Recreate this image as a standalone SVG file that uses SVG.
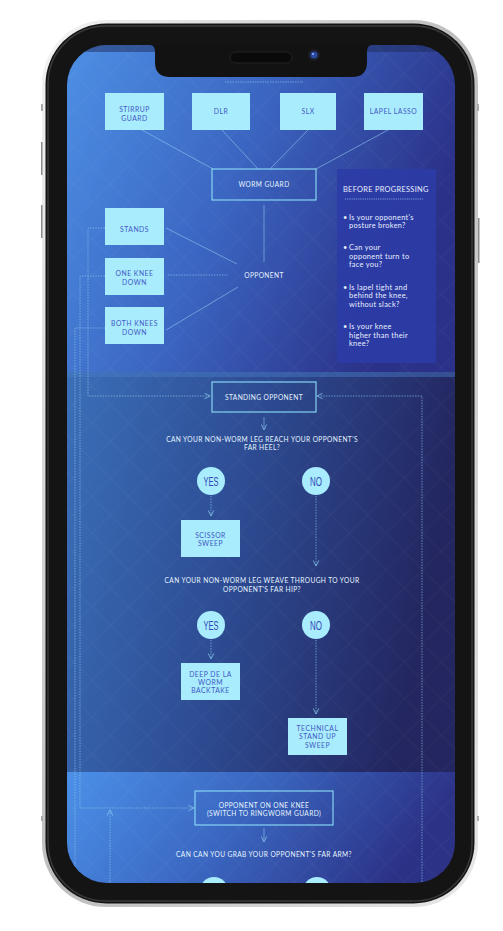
<svg xmlns="http://www.w3.org/2000/svg" width="503" height="931" viewBox="0 0 503 931">
<defs>
<style>
.box{fill:#a8ecfd}
.obox{fill:none;stroke:#86d4f2;stroke-width:1.2}
.bt{font-family:Lato,"Liberation Sans",sans-serif;font-size:6.8px;fill:#4358c4;text-anchor:middle;letter-spacing:0.5px}
.wt{font-family:Lato,"Liberation Sans",sans-serif;font-size:6.6px;fill:#e6f4ff;text-anchor:middle;letter-spacing:0.4px}
.pt{font-family:Lato,"Liberation Sans",sans-serif;font-size:7.4px;fill:#e8efff;letter-spacing:0.3px}
.ct{font-family:"Liberation Sans",sans-serif;font-size:13px;fill:#3348b8;text-anchor:middle}
.circ{fill:#a8ecfd}
.sl{stroke:#8fc9f0;stroke-width:0.8;fill:none;opacity:0.75}
.dl{stroke:#8fc9f0;stroke-width:0.8;fill:none;stroke-dasharray:1.5 1.2;opacity:0.8}
</style>
<marker id="ah" viewBox="0 0 10 10" refX="9" refY="5" markerWidth="7" markerHeight="7" markerUnits="userSpaceOnUse" orient="auto">
<path d="M1,1 L9,5 L1,9" fill="none" stroke="#8fd0f2" stroke-width="1.3"/>
</marker>
<linearGradient id="gTop" x1="0" y1="0" x2="1" y2="0.35">
<stop offset="0" stop-color="#4d8fe4"/>
<stop offset="0.5" stop-color="#3b66c2"/>
<stop offset="1" stop-color="#2b3188"/>
</linearGradient>
<linearGradient id="gMid" x1="0" y1="0" x2="1" y2="0.2">
<stop offset="0" stop-color="#3a6fb8"/>
<stop offset="0.5" stop-color="#2d4b92"/>
<stop offset="1" stop-color="#232660"/>
</linearGradient>
<linearGradient id="gBot" x1="0" y1="0" x2="1" y2="0.2">
<stop offset="0" stop-color="#4b90e8"/>
<stop offset="0.5" stop-color="#3a66c0"/>
<stop offset="1" stop-color="#2c3286"/>
</linearGradient>
<linearGradient id="gFrame" x1="0" y1="0" x2="1" y2="1">
<stop offset="0" stop-color="#f4f4f4"/>
<stop offset="0.5" stop-color="#bdbdbd"/>
<stop offset="1" stop-color="#e8e8e8"/>
</linearGradient>
<pattern id="dia" width="26" height="26" patternUnits="userSpaceOnUse" patternTransform="rotate(45)">
<rect width="26" height="26" fill="none" stroke="#ffffff" stroke-width="0.6" opacity="0.06"/>
</pattern>
<clipPath id="scr"><rect x="67" y="45" width="388" height="838" rx="40"/></clipPath>
</defs>

<g id="phone-frame">
<rect x="42" y="20" width="436" height="887" rx="64" fill="url(#gFrame)"/>
<rect x="45.5" y="23.5" width="429" height="880" rx="61" fill="#141414"/>
<rect x="48" y="26" width="424" height="875" rx="58" fill="none" stroke="#3a3a3a" stroke-width="1.5"/>
<rect x="41" y="104" width="2" height="7" fill="#aaaaaa"/>
<rect x="41" y="142" width="1.5" height="33" fill="#8a8a8a"/>
<rect x="41" y="205" width="1.5" height="33" fill="#8a8a8a"/>
<rect x="477" y="104" width="2" height="7" fill="#aaaaaa"/>
<rect x="478" y="218" width="1.5" height="45" fill="#8a8a8a"/>
<rect x="41" y="816" width="2" height="5" fill="#aaaaaa"/>
<rect x="477" y="816" width="2" height="5" fill="#aaaaaa"/>
</g>

<g id="screen" clip-path="url(#scr)">
<rect x="67" y="45" width="388" height="328" fill="url(#gTop)"/>
<rect x="67" y="45" width="388" height="7" fill="#1e2a5a" opacity="0.5"/>
<rect x="67" y="372" width="388" height="400" fill="url(#gMid)"/>
<rect x="67" y="372" width="388" height="5" fill="#4a7cc8" opacity="0.45"/>
<rect x="67" y="772" width="388" height="111" fill="url(#gBot)"/>
<rect x="67" y="45" width="388" height="838" fill="url(#dia)"/>
<line x1="225" y1="82" x2="303" y2="82" stroke="#8fc9f0" stroke-width="0.8" stroke-dasharray="1.5 1" opacity="0.8"/>

<g id="connectors">
<line class="sl" x1="142" y1="130" x2="213" y2="169"/>
<line class="sl" x1="222" y1="130" x2="258" y2="169"/>
<line class="sl" x1="308" y1="130" x2="270" y2="169"/>
<line class="sl" x1="388" y1="130" x2="316" y2="169"/>
<line class="sl" x1="264" y1="205" x2="264" y2="262"/>
<line class="sl" x1="166" y1="228" x2="237" y2="264"/>
<line class="dl" x1="168" y1="275" x2="228" y2="275"/>
<line class="sl" x1="166" y1="330" x2="238" y2="287"/>
<polyline class="dl" points="105,228 88,228 88,396 210,396" marker-end="url(#ah)"/>
<polyline class="dl" points="105,276 80,276 80,808 194,808" marker-end="url(#ah)"/>
<polyline class="dl" points="105,328 75,328 75,890"/>
<polyline class="dl" points="110,890 110,810" marker-end="url(#ah)"/>
<polyline class="dl" points="422,890 422,396 317,396" marker-end="url(#ah)"/>
<line class="sl" x1="264" y1="417" x2="264" y2="430" marker-end="url(#ah)"/>
<line class="dl" x1="211" y1="496" x2="211" y2="516" marker-end="url(#ah)"/>
<line class="dl" x1="316" y1="496" x2="316" y2="566" marker-end="url(#ah)"/>
<line class="dl" x1="211" y1="640" x2="211" y2="659" marker-end="url(#ah)"/>
<line class="dl" x1="316" y1="640" x2="316" y2="714" marker-end="url(#ah)"/>
<line class="sl" x1="264" y1="828" x2="264" y2="842" marker-end="url(#ah)"/>
</g>

<g id="n-stirrup"><rect class="box" x="105" y="93" width="59" height="37"/><text class="bt" x="134.5" y="111.5">STIRRUP</text><text class="bt" x="134.5" y="120.5">GUARD</text></g>
<g id="n-dlr"><rect class="box" x="192" y="93" width="58" height="37"/><text class="bt" x="221" y="114">DLR</text></g>
<g id="n-slx"><rect class="box" x="280" y="93" width="56" height="37"/><text class="bt" x="308" y="114">SLX</text></g>
<g id="n-lasso"><rect class="box" x="364" y="93" width="59" height="37"/><text class="bt" x="393.5" y="114">LAPEL LASSO</text></g>
<g id="n-worm"><rect class="obox" x="212" y="169" width="104" height="31"/><text class="wt" x="264" y="187">WORM GUARD</text></g>
<g id="n-stands"><rect class="box" x="105" y="208" width="59" height="37"/><text class="bt" x="134.5" y="231.5">STANDS</text></g>
<g id="n-oneknee"><rect class="box" x="105" y="258" width="59" height="37"/><text class="bt" x="134.5" y="275.5">ONE KNEE</text><text class="bt" x="134.5" y="284.5">DOWN</text></g>
<g id="n-bothknees"><rect class="box" x="105" y="307" width="59" height="37"/><text class="bt" x="134.5" y="325.5">BOTH KNEES</text><text class="bt" x="134.5" y="334.5">DOWN</text></g>
<g id="n-opponent"><text class="wt" x="264" y="277.5">OPPONENT</text></g>

<g id="n-before">
<rect x="337" y="169" width="99" height="194" fill="#2c3ca6" opacity="0.92"/>
<text class="pt" x="343" y="191.5" font-size="7px" letter-spacing="0.5">BEFORE PROGRESSING</text>
<line x1="345" y1="199" x2="423" y2="199" stroke="#8fb6f0" stroke-width="0.8" stroke-dasharray="1.2 1"/>
<text class="pt" x="343" y="219.5">•</text><text class="pt" x="349" y="219.5">Is your opponent's</text><text class="pt" x="349" y="228">posture broken?</text>
<text class="pt" x="343" y="249.5">•</text><text class="pt" x="349" y="249.5">Can your</text><text class="pt" x="349" y="258.5">opponent turn to</text><text class="pt" x="349" y="267">face you?</text>
<text class="pt" x="343" y="289.5">•</text><text class="pt" x="349" y="289.5">Is lapel tight and</text><text class="pt" x="349" y="298">behind the knee,</text><text class="pt" x="349" y="306.5">without slack?</text>
<text class="pt" x="343" y="328.5">•</text><text class="pt" x="349" y="328.5">Is your knee</text><text class="pt" x="349" y="337.5">higher than their</text><text class="pt" x="349" y="346">knee?</text>
</g>

<g id="n-standing"><rect class="obox" x="212" y="382" width="104" height="30"/><text class="wt" x="264" y="399.5">STANDING OPPONENT</text></g>
<g id="q1"><text class="wt" x="262" y="441.5">CAN YOUR NON-WORM LEG REACH YOUR OPPONENT'S</text><text class="wt" x="262" y="449.5">FAR HEEL?</text></g>
<g id="yes1"><circle class="circ" cx="211" cy="481" r="14"/><text class="ct" x="211" y="486" textLength="15" lengthAdjust="spacingAndGlyphs">YES</text></g>
<g id="no1"><circle class="circ" cx="316" cy="481" r="14"/><text class="ct" x="316" y="486" textLength="12" lengthAdjust="spacingAndGlyphs">NO</text></g>
<g id="n-scissor"><rect class="box" x="181" y="520" width="59" height="37"/><text class="bt" x="210.5" y="537.5">SCISSOR</text><text class="bt" x="210.5" y="546">SWEEP</text></g>
<g id="q2"><text class="wt" x="262" y="582.5">CAN YOUR NON-WORM LEG WEAVE THROUGH TO YOUR</text><text class="wt" x="262" y="591.5">OPPONENT'S FAR HIP?</text></g>
<g id="yes2"><circle class="circ" cx="211" cy="625" r="14"/><text class="ct" x="211" y="630" textLength="15" lengthAdjust="spacingAndGlyphs">YES</text></g>
<g id="no2"><circle class="circ" cx="316" cy="625" r="14"/><text class="ct" x="316" y="630" textLength="12" lengthAdjust="spacingAndGlyphs">NO</text></g>
<g id="n-deep"><rect class="box" x="181" y="663" width="59" height="37"/><text class="bt" x="210.5" y="676.5">DEEP DE LA</text><text class="bt" x="210.5" y="684.5">WORM</text><text class="bt" x="210.5" y="693">BACKTAKE</text></g>
<g id="n-technical"><rect class="box" x="288" y="718" width="59" height="37"/><text class="bt" x="317.5" y="730.5">TECHNICAL</text><text class="bt" x="317.5" y="739">STAND UP</text><text class="bt" x="317.5" y="747.5">SWEEP</text></g>
<g id="n-oneknee2"><rect class="obox" x="195" y="791" width="138" height="34"/><text class="wt" x="264" y="807.5">OPPONENT ON ONE KNEE</text><text class="wt" x="264" y="816">(SWITCH TO RINGWORM GUARD)</text></g>
<g id="q3"><text class="wt" x="264" y="856.5">CAN CAN YOU GRAB YOUR OPPONENT'S FAR ARM?</text></g>
<g id="yes3"><circle class="circ" cx="214" cy="891" r="14"/></g>
<g id="no3"><circle class="circ" cx="317" cy="891" r="14"/></g>
</g>

<g id="notch">
<path d="M150,45 Q155,45 155,52 L155,62 Q155,77 170,77 L352,77 Q367,77 367,62 L367,52 Q367,45 372,45 Z" fill="#121212"/>
<rect x="230" y="52" width="62" height="11" rx="5.5" fill="#0a0a0a" stroke="#2a2a2a" stroke-width="0.8"/>
<circle cx="314" cy="55" r="6" fill="#1d1d2a"/>
<circle cx="314" cy="55" r="3.5" fill="#2a4aa0"/>
<circle cx="313" cy="54" r="1.1" fill="#8fb0ff"/>
</g>
</svg>
